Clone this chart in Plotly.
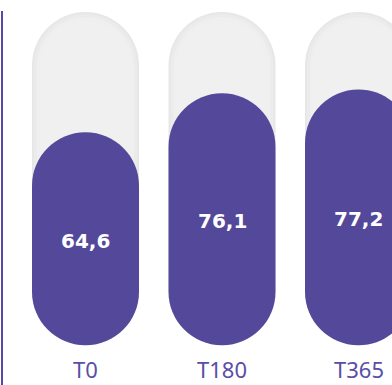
import plotly.graph_objects as go

# Data
categories = ["T0", "T180", "T365"]
values = [64.6, 76.1, 77.2]
value_labels = ["64,6", "76,1", "77,2"]
track_max = 100
pill_base = 2

# Styling
PURPLE = "#54489a"
LABEL_PURPLE = "#5a4ea6"
W, H = 392, 385
X_RANGE = [-0.6264, 2.2454]
Y_RANGE = [-9.71, 103.53]
HALF_W = 0.392  # half pill width in x units

px_x = W / (X_RANGE[1] - X_RANGE[0])
px_y = H / (Y_RANGE[1] - Y_RANGE[0])
K = 0.5523


def pill_path(xc, y0, y1, hw, inset_px=0.0):
    """Capsule outline in data coordinates (round caps via cubic Beziers)."""
    hw = hw - inset_px / px_x
    y0 = y0 + inset_px / px_y
    y1 = y1 - inset_px / px_y
    ry = hw * px_x / px_y
    xl, xr = xc - hw, xc + hw
    kx, ky = hw * K, ry * K
    p = [
        f"M {xl},{y0 + ry}",
        f"L {xl},{y1 - ry}",
        f"C {xl},{y1 - ry + ky} {xc - kx},{y1} {xc},{y1}",
        f"C {xc + kx},{y1} {xr},{y1 - ry + ky} {xr},{y1 - ry}",
        f"L {xr},{y0 + ry}",
        f"C {xr},{y0 + ry - ky} {xc + kx},{y0} {xc},{y0}",
        f"C {xc - kx},{y0} {xl},{y0 + ry - ky} {xl},{y0 + ry}",
        "Z",
    ]
    return " ".join(p)


shapes = []
annotations = []
for i, (cat, v, lab) in enumerate(zip(categories, values, value_labels)):
    # light grey track with a soft inner edge
    for inset, col in [(0, "#e7e7e7"), (2, "#ebebeb"), (5, "#efefef"), (8, "#f0f0f0")]:
        shapes.append(dict(type="path", xref="x", yref="y",
                           path=pill_path(i, pill_base, track_max, HALF_W, inset),
                           fillcolor=col, line=dict(width=0), layer="below"))
    # value pill
    shapes.append(dict(type="path", xref="x", yref="y",
                       path=pill_path(i, pill_base, v, HALF_W),
                       fillcolor=PURPLE, line=dict(width=0), layer="below"))
    annotations.append(dict(x=i, y=(pill_base + v) / 2 - 0.6, xref="x", yref="y",
                            text=f"<b>{lab}</b>", showarrow=False,
                            font=dict(family="DejaVu Sans", size=20, color="white")))
    annotations.append(dict(x=i, y=0, xref="x", yref="paper", yanchor="bottom",
                            text=cat, showarrow=False, borderpad=0,
                            font=dict(family="Noto Sans", size=22, color=LABEL_PURPLE)))

# left rule
shapes.append(dict(type="line", xref="paper", yref="paper",
                   x0=2 / W, x1=2 / W, y0=-0.01, y1=(H - 11) / H,
                   line=dict(color="#5548a8", width=2)))

fig = go.Figure(go.Scatter(x=list(range(len(values))), y=values,
                           mode="markers", marker=dict(opacity=0),
                           hoverinfo="skip", showlegend=False))
fig.update_layout(
    width=W, height=H,
    margin=dict(l=0, r=0, t=0, b=0),
    paper_bgcolor="white", plot_bgcolor="white",
    xaxis=dict(range=X_RANGE, visible=False, fixedrange=True),
    yaxis=dict(range=Y_RANGE, visible=False, fixedrange=True),
    shapes=shapes, annotations=annotations, showlegend=False,
)
fig.write_html("out.html")
